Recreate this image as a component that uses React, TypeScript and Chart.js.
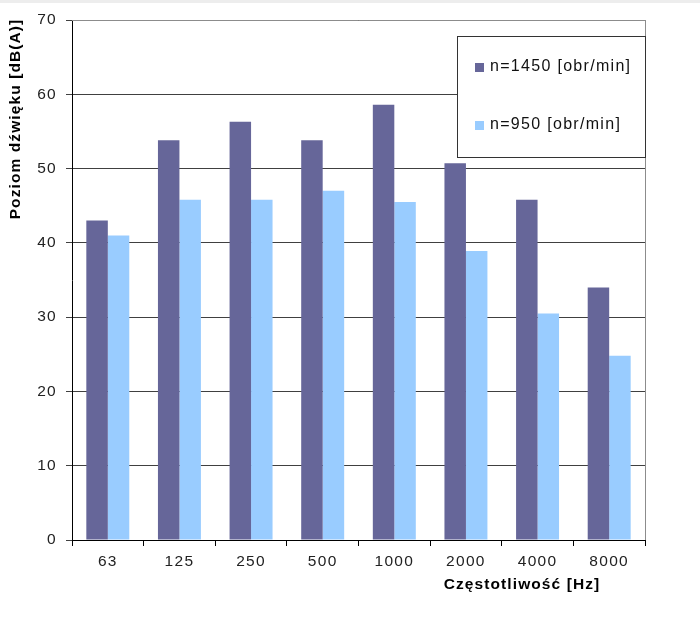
import React, { useEffect, useRef } from "react";
import { Chart, registerables } from "chart.js";

Chart.register(...registerables);

const categories = ["63", "125", "250", "500", "1000", "2000", "4000", "8000"];
const series1450 = [43.0, 53.8, 56.3, 53.8, 58.6, 50.7, 45.8, 34.0];
const series950 = [41.0, 45.8, 45.8, 47.0, 45.5, 38.9, 30.5, 24.8];
const seriesLabels = ["n=1450 [obr/min]", "n=950 [obr/min]"];
const seriesColors = ["#666699", "#99CCFF"];
const yTitle = "Poziom dźwięku [dB(A)]";
const xTitle = "Częstotliwość [Hz]";

const FONT = "'Liberation Sans', Arial, sans-serif";

const decorPlugin = {
  id: "decor",
  beforeDraw(chart: any) {
    const ctx = chart.ctx;
    ctx.save();
    ctx.fillStyle = "#ededed";
    ctx.fillRect(0, 0, chart.width, 3);
    ctx.restore();
    (ctx as any).letterSpacing = "1.3px";
  },
  afterDraw(chart: any) {
    const ctx = chart.ctx;
    const area = chart.chartArea;
    ctx.save();
    // top and right border of plot area
    ctx.strokeStyle = "#8c8c8c";
    ctx.lineWidth = 1;
    ctx.beginPath();
    ctx.moveTo(area.left, Math.round(area.top) + 0.5);
    ctx.lineTo(Math.round(area.right) + 0.5, Math.round(area.top) + 0.5);
    ctx.moveTo(Math.round(area.right) + 0.5, area.top);
    ctx.lineTo(Math.round(area.right) + 0.5, area.bottom);
    ctx.stroke();

    // axis titles
    ctx.fillStyle = "#000";
    (ctx as any).letterSpacing = "1.1px";
    ctx.font = `bold 15.5px ${FONT}`;
    ctx.textAlign = "center";
    ctx.textBaseline = "middle";
    ctx.fillText(xTitle, 522, 585);
    ctx.save();
    ctx.translate(16, 119);
    ctx.rotate(-Math.PI / 2);
    ctx.fillText(yTitle, 0, 0);
    ctx.restore();

    // legend box
    const bx = 457.5, by = 36.5, bw = 188, bh = 121;
    ctx.fillStyle = "#fff";
    ctx.fillRect(bx, by, bw, bh);
    ctx.strokeStyle = "#333";
    ctx.lineWidth = 1;
    ctx.strokeRect(bx, by, bw, bh);
    const rows = [67, 125];
    chart.data.datasets.forEach((ds: any, i: number) => {
      const cy = rows[i];
      ctx.fillStyle = ds.backgroundColor;
      ctx.fillRect(475, cy - 4, 9, 9);
      ctx.fillStyle = "#111";
      (ctx as any).letterSpacing = "1.3px";
      ctx.font = `16px ${FONT}`;
      ctx.textAlign = "left";
      ctx.textBaseline = "middle";
      ctx.fillText(ds.label, 490, cy);
    });
    ctx.restore();
  },
};

export default function App() {
  const ref = useRef<HTMLCanvasElement | null>(null);
  useEffect(() => {
    if (!ref.current) return;
    const chart = new Chart(ref.current, {
      type: "bar",
      data: {
        labels: categories,
        datasets: [
          { label: seriesLabels[0], data: series1450, backgroundColor: seriesColors[0] },
          { label: seriesLabels[1], data: series950, backgroundColor: seriesColors[1] },
        ],
      },
      options: {
        responsive: false,
        animation: false,
        devicePixelRatio: 1,
        layout: { padding: { left: 0, top: 20, right: 55, bottom: 0 } },
        plugins: { legend: { display: false }, tooltip: { enabled: false } },
        datasets: { bar: { categoryPercentage: 0.6, barPercentage: 1 } },
        scales: {
          x: {
            offset: true,
            grid: { offset: true, drawOnChartArea: false, drawTicks: true, tickLength: 6, color: "#000" },
            border: { display: true, color: "#000", width: 1 },
            ticks: { color: "#222", font: { family: FONT, size: 15.5 }, padding: 6, maxRotation: 0 },
            afterFit: (s: any) => { s.height = 97; },
          },
          y: {
            min: 0,
            max: 70,
            ticks: { stepSize: 10, color: "#222", font: { family: FONT, size: 15.5 }, padding: 9 },
            grid: { color: "#404040", lineWidth: 1, tickLength: 6, drawTicks: true },
            border: { display: true, color: "#000", width: 1 },
            afterFit: (s: any) => { s.width = 72; },
          },
        },
      },
      plugins: [decorPlugin],
    } as any);
    return () => chart.destroy();
  }, []);
  return (
    <div style={{ position: "fixed", left: 0, top: 0, width: 700, height: 637, background: "#fff" }}>
      <canvas ref={ref} width={700} height={637} style={{ width: 700, height: 637, display: "block" }} />
    </div>
  );
}
